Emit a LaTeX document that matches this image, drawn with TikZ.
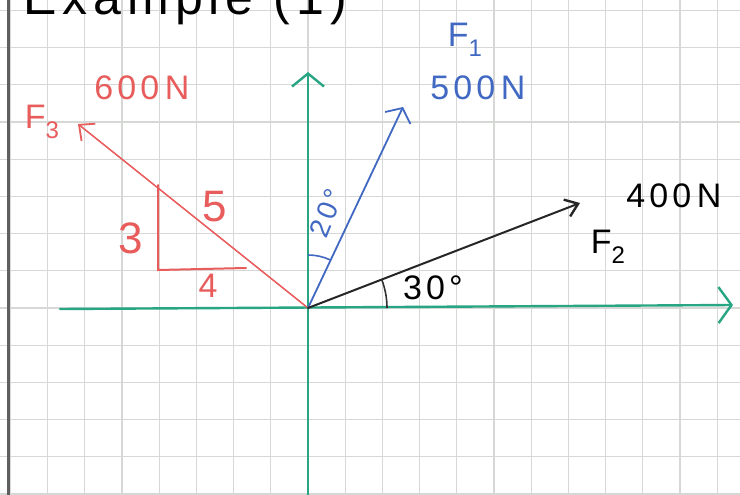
\documentclass[tikz,border=0pt]{standalone}
\usepackage{fontspec}
\setmainfont{Liberation Sans}
\newfontfamily\hand[LetterSpace=12]{Liberation Sans}
\usetikzlibrary{arrows.meta}
\definecolor{gridc}{RGB}{214,216,214}
\definecolor{axisc}{RGB}{40,165,130}
\definecolor{fblue}{RGB}{65,105,195}
\definecolor{fred}{RGB}{232,92,92}
\definecolor{margc}{RGB}{95,95,95}
\newcommand{\Fsub}[1]{F\raisebox{-0.28em}{\fontsize{24}{24}\selectfont #1}}
\tikzset{
  gridline/.style={draw=gridc, line width=1.1pt},
  axis/.style={draw=axisc, line width=2.4pt, line cap=round},
  force/.style={line width=1.8pt, line cap=round},
  lab/.style={font=\hand\fontsize{34}{36}\selectfont, inner sep=0pt},
  biglab/.style={font=\hand\fontsize{44}{46}\selectfont, inner sep=0pt},
}
\begin{document}
\begin{tikzpicture}[x=1pt,y=-1pt]
\useasboundingbox (0,0) rectangle (740,495);
\clip (0,0) rectangle (740,495);
\fill[white] (0,0) rectangle (740,495);
% grid
\foreach \i in {-8,...,12} \path[gridline] (308+37.2*\i,0) -- (308+37.2*\i,495);
\foreach \j in {-9,...,6} \path[gridline] (0,308+37.2*\j) -- (740,308+37.2*\j);
% margin
\draw[margc, line width=3pt] (8,0) -- (8,495);
% title
\node[anchor=base, font=\hand\fontsize{50}{52}\selectfont, inner sep=0pt] (title) at (185,15) {Example (1)};
% coordinates
\coordinate (O) at (308,308);
\coordinate (xl) at (60,309);
\coordinate (xr) at (733,305);
\coordinate (yt) at (308,72);
\coordinate (yb) at (308,500);
\coordinate (F1) at (403,107);
\coordinate (F2) at (580,203);
\coordinate (F3) at (78,124);
% axes
\draw[axis, -{Straight Barb[length=13pt,width=36pt,line width=2.4pt]}] (xl) -- (xr);
\draw[axis, -{Straight Barb[length=13pt,width=32pt,line width=2.4pt]}] (yb) -- (yt);
% forces
\draw[force, fred, line width=1.5pt, -{Straight Barb[length=12pt,width=22pt,line width=1.8pt]}] (O) -- (F3);
\draw[force, fblue, -{Straight Barb[length=11pt,width=28pt,line width=1.8pt]}] (O) -- (F1);
\draw[force, black!85, line width=2pt, -{Straight Barb[length=12pt,width=18pt,line width=2.4pt]}] (O) -- (F2);
% angle arcs
\draw[fblue, line width=1.6pt] (O) ++(-90:53) arc[start angle=-90, end angle=-65, radius=53];
\draw[black!80, line width=1.6pt] (O) ++(0:79) arc[start angle=0, end angle=-21, radius=79];
% triangle
\coordinate (Ta) at (158,185);
\coordinate (Tb) at (158,270);
\coordinate (Tc) at (246,268);
\draw[fred, line width=2pt, line cap=round] (Ta) -- (Tb) -- (Tc);
% labels
\node[lab, fblue] (lF1) at (465,40) {\Fsub{1}};
\node[lab, fblue] (l500) at (478,88) {500\,N};
\node[lab, fred] (lF3) at (42,122) {\Fsub{3}};
\node[lab, fred] (l600) at (142,88) {600\,N};
\node[lab] (l400) at (674,196) {400\,N};
\node[lab] (lF2) at (608,247) {\Fsub{2}};
\node[lab, fblue, rotate=68, font=\hand\fontsize{28}{30}\selectfont] (l20) at (327,213) {20°};
\node[lab] (l30) at (433,288) {30°};
\node[biglab, fred] (l3) at (131,238) {3};
\node[biglab, fred] (l5) at (215,207) {5};
\node[lab, fred] (l4) at (208,286) {4};
\end{tikzpicture}
\end{document}
